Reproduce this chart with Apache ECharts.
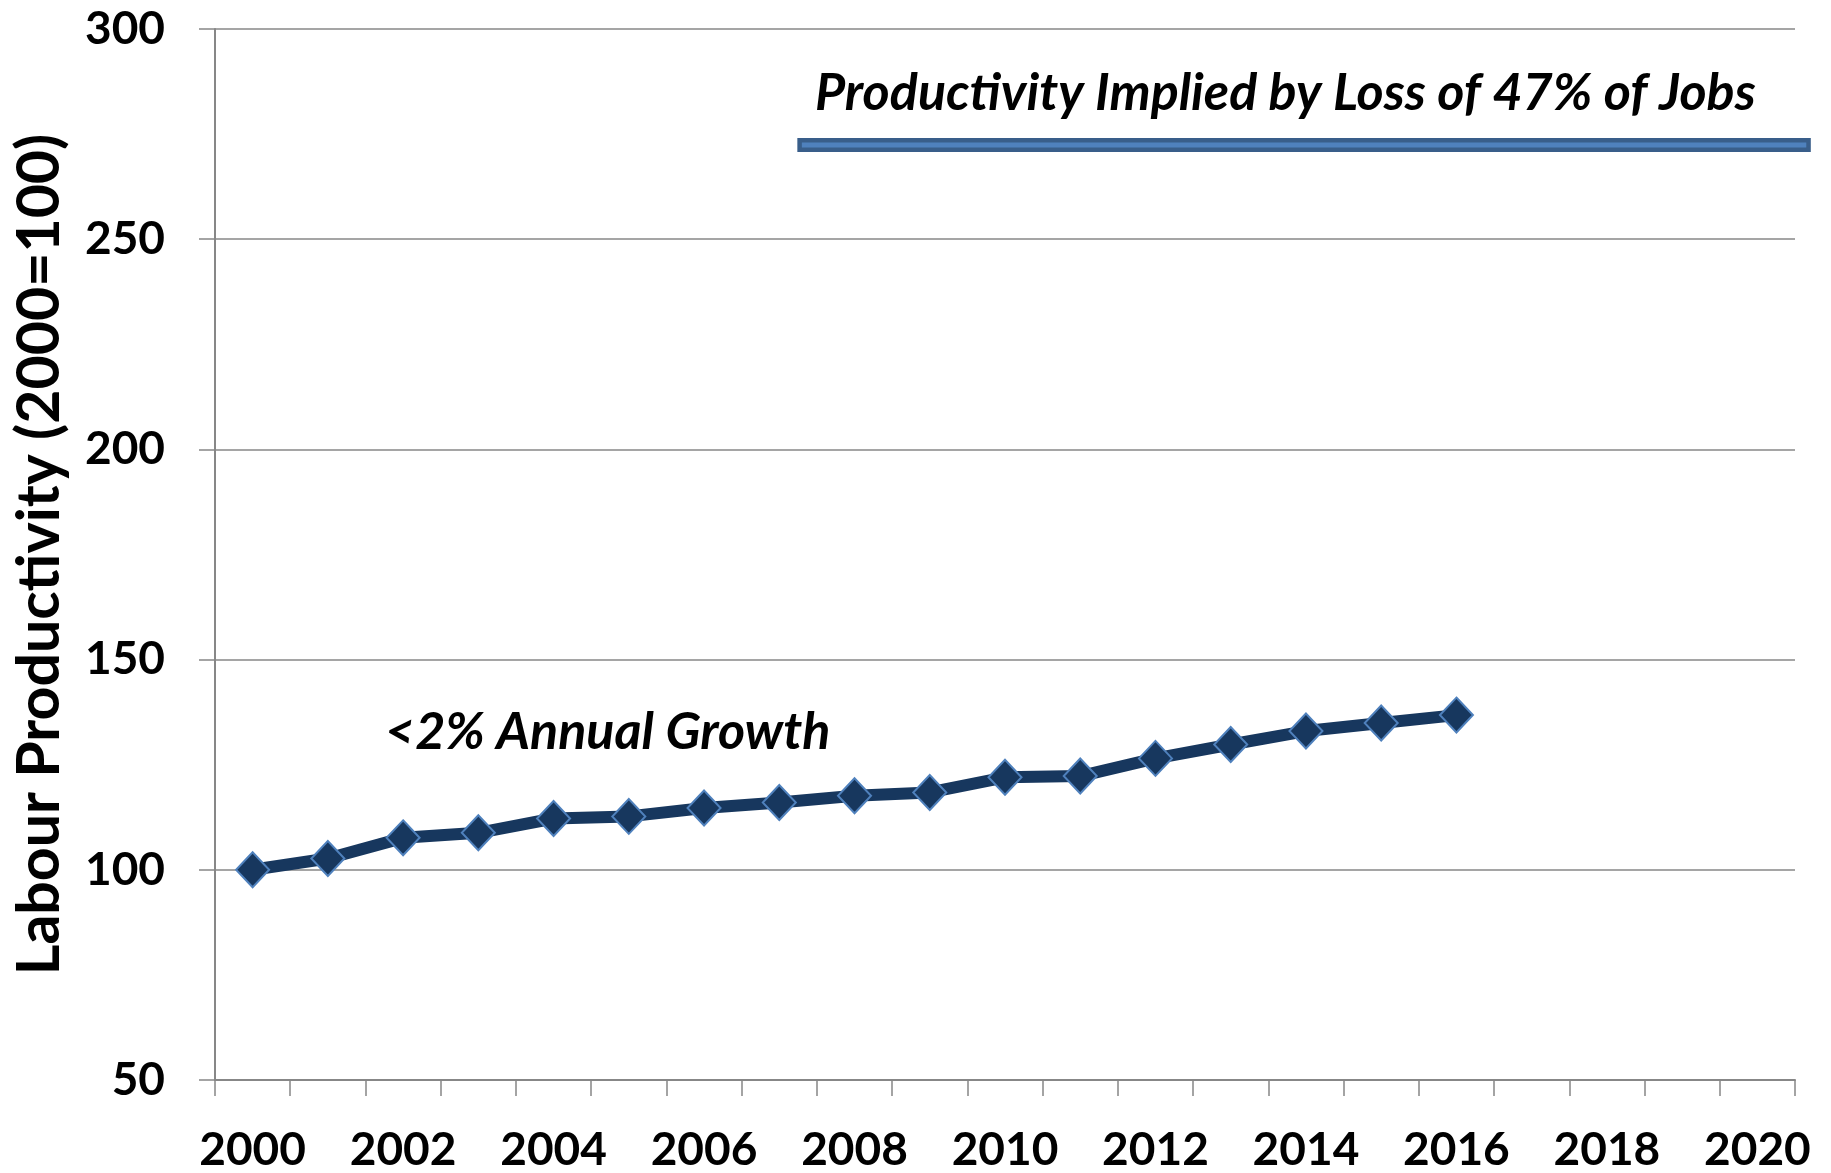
<!DOCTYPE html>
<html>
<head>
<meta charset="utf-8">
<title>Labour Productivity</title>
<script src="https://cdn.jsdelivr.net/npm/echarts@6/dist/echarts.min.js"></script>
<style>
  html, body { margin: 0; padding: 0; background: #fff; }
  #chart { width: 1831px; height: 1173px; }
</style>
</head>
<body>
<div id="chart"></div>
<script>
// categories (one per year) and the shown tick labels
const years = ['2000', '2001', '2002', '2003', '2004', '2005', '2006', '2007', '2008', '2009', '2010',
    '2011', '2012', '2013', '2014', '2015', '2016', '2017', '2018', '2019', '2020'];
// labour productivity index, 2000 = 100
const productivity = [100, 102.7, 107.6, 108.8, 112.2, 112.7, 114.7, 116.0, 117.6, 118.4, 122.0,
    122.3, 126.5, 129.8, 133.0, 134.9, 136.8];
// level implied by losing 47% of jobs, drawn as a flat bar
const impliedLevel = 272.5;
const impliedSpan = [2007.24, 2020.71]; // on the continuous year scale
const yTicks = { min: 50, max: 300, step: 50 };

const gray = '#878787';
const labelFont = {
    color: '#000',
    fontFamily: 'Lato',
    fontWeight: 'bold',
    fontSize: 46
};

// layout of the plot area
const plot = { left: 215, right: 36, top: 29, bottom: 90, width: 1831 };
// the bar runs past the end of the axis, so it gets its own wider grid
// sharing the same year scale (1999.5 .. 2020.5 over the main grid)
const yearPx = (plot.width - plot.left - plot.right) / years.length;
const wideMax = 1999.5 + (plot.width - plot.left) / yearPx;

const chart = echarts.init(document.getElementById('chart'));

const option = {
    animation: false,
    backgroundColor: '#fff',
    grid: [
        {
            left: plot.left,
            right: plot.right,
            top: plot.top,
            bottom: plot.bottom
        },
        {
            left: plot.left,
            right: 0,
            top: plot.top,
            bottom: plot.bottom
        }
    ],
    xAxis: [
        {
            type: 'category',
            gridIndex: 0,
            data: years,
            boundaryGap: true,
            axisLine: { lineStyle: { color: gray, width: 2 } },
            axisTick: {
                show: true,
                interval: 0,
                length: 16,
                lineStyle: { color: gray, width: 1.5 }
            },
            axisLabel: Object.assign({ interval: 1, margin: 47, lineHeight: 46 }, labelFont),
            splitLine: { show: false }
        },
        {
            type: 'value',
            gridIndex: 1,
            min: 1999.5,
            max: wideMax,
            show: false
        }
    ],
    yAxis: [
        {
            type: 'value',
            gridIndex: 0,
            min: yTicks.min,
            max: yTicks.max,
            interval: yTicks.step,
            name: 'Labour Productivity (2000=100)',
            nameLocation: 'middle',
            nameRotate: 90,
            nameGap: 146,
            nameTextStyle: {
                color: '#000',
                fontFamily: 'Lato',
                fontWeight: 'bold',
                fontSize: 59
            },
            axisLine: { show: true, lineStyle: { color: gray, width: 2 } },
            axisTick: { show: true, length: 16, lineStyle: { color: gray, width: 1.5 } },
            axisLabel: Object.assign({ margin: 50 }, labelFont),
            splitLine: { show: true, lineStyle: { color: gray, width: 1.5 } }
        },
        {
            type: 'value',
            gridIndex: 1,
            min: yTicks.min,
            max: yTicks.max,
            show: false
        }
    ],
    series: [
        {
            // outer edge of the implied bar
            name: 'implied-edge',
            type: 'line',
            xAxisIndex: 1,
            yAxisIndex: 1,
            clip: false,
            symbol: 'none',
            silent: true,
            lineStyle: { color: '#395E8A', width: 14, cap: 'butt' },
            data: impliedSpan.map((x) => [x, impliedLevel])
        },
        {
            // lighter core of the implied bar
            name: 'implied-core',
            type: 'line',
            xAxisIndex: 1,
            yAxisIndex: 1,
            clip: false,
            symbol: 'none',
            silent: true,
            lineStyle: { color: '#4F81BD', width: 5 },
            data: [[impliedSpan[0] + 0.06, impliedLevel], [impliedSpan[1] - 0.06, impliedLevel]]
        },
        {
            name: 'Labour productivity',
            type: 'line',
            data: productivity,
            symbol: 'diamond',
            symbolSize: [33, 35],
            lineStyle: { color: '#17375E', width: 12 },
            itemStyle: { color: '#17375E', borderColor: '#4F81BD', borderWidth: 2 },
            z: 5
        }
    ],
    graphic: [
        {
            type: 'text',
            left: 815,
            top: 67,
            style: {
                text: 'Productivity Implied by Loss of 47% of Jobs',
                fill: '#000',
                font: 'italic bold 52px Lato'
            }
        },
        {
            type: 'text',
            left: 385,
            top: 706,
            style: {
                text: '<2% Annual Growth',
                fill: '#000',
                font: 'italic bold 52px Lato'
            }
        }
    ]
};

chart.setOption(option);
</script>
</body>
</html>
